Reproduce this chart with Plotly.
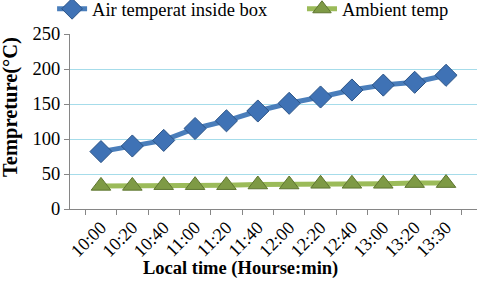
import plotly.graph_objects as go

times = ["10:00", "10:20", "10:40", "11:00", "11:20", "11:40",
         "12:00", "12:20", "12:40", "13:00", "13:20", "13:30"]
air_inside = [82, 90, 98, 115, 126, 140, 151, 160, 170, 177, 181, 191]
ambient = [33, 33, 34, 34, 34, 35, 35, 36, 36, 36, 37, 37]

FF = "Liberation Serif"

fig = go.Figure()
fig.add_trace(go.Scatter(
    x=times, y=air_inside, name="Air temperat inside box",
    mode="lines+markers", legend="legend",
    line=dict(color="#4a7ebb", width=5),
    marker=dict(symbol="diamond", size=17, color="#3f72b5",
                line=dict(color="#2c5486", width=1)),
))
fig.add_trace(go.Scatter(
    x=times, y=ambient, name="Ambient temp",
    mode="lines+markers", legend="legend2",
    line=dict(color="#9bbb59", width=5),
    marker=dict(symbol="triangle-up", size=17, color="#7e9a45",
                line=dict(color="#5e7530", width=1)),
))

legend_style = dict(orientation="h", xanchor="left", y=1.25, yref="paper",
                    yanchor="top", font=dict(family=FF, size=18.5, color="black"),
                    bgcolor="rgba(0,0,0,0)")

fig.update_layout(
    width=480, height=284,
    margin=dict(l=70, r=3, t=34, b=75, autoexpand=False),
    paper_bgcolor="white", plot_bgcolor="white",
    font=dict(family=FF, size=18, color="black"),
    showlegend=True,
    legend=dict(x=-0.044, **legend_style),
    legend2=dict(x=0.57, **legend_style),
    annotations=[
        dict(text="<b>Tempreture(°C)</b>", xref="paper", yref="paper",
             x=-0.145, y=0.583, xanchor="center", yanchor="middle",
             textangle=-90, showarrow=False,
             font=dict(family=FF, size=20.5, color="black")),
        dict(text="<b>Local time (Hourse:min)</b>", xref="paper", yref="paper",
             x=0.418, y=-0.34, xanchor="center", yanchor="middle",
             showarrow=False, font=dict(family=FF, size=18.5, color="black")),
    ],
)
fig.update_xaxes(
    type="category", tickson="boundaries", ticks="outside", ticklen=5,
    tickcolor="#868686", showline=True, linecolor="#868686", linewidth=1,
    tickangle=-45, tickfont=dict(family=FF, size=18, color="black"),
    showgrid=False, automargin=False,
)
fig.update_yaxes(
    range=[0, 250], dtick=50, ticks="outside", ticklen=5, tickcolor="#868686",
    showline=True, linecolor="#868686", linewidth=1,
    showgrid=True, gridcolor="#a6dcea", gridwidth=1, zeroline=False,
    tickfont=dict(family=FF, size=18.5, color="black"), automargin=False,
)

fig.write_html("out.html", config={"displayModeBar": False},
               post_script="document.body.style.margin='0';")
